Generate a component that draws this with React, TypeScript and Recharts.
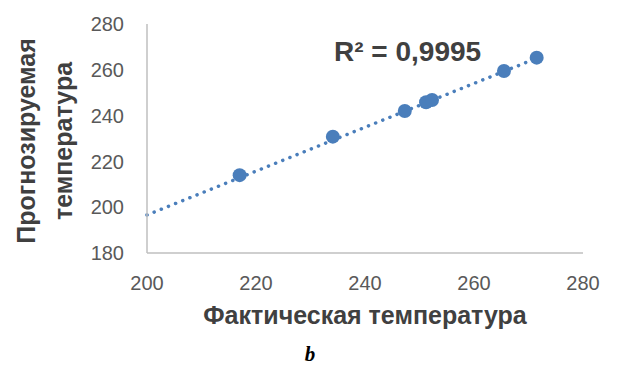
import React from "react";
import {
  ScatterChart,
  Scatter,
  XAxis,
  YAxis,
  ReferenceLine,
  Label,
} from "recharts";

// actual vs predicted temperature
const actual = [217, 234.1, 247.3, 251.2, 252.3, 265.5, 271.5];
const predicted = [214, 230.8, 242, 245.8, 246.8, 259.5, 265.3];

// linear trend line ends
const trendX = [200, 272.5];
const trendY = [196.6, 266];

const xTicks = [200, 220, 240, 260, 280];
const yTicks = [180, 200, 220, 240, 260, 280];

const points = actual.map((x, i) => ({ x, y: predicted[i] }));

const font = "'Liberation Sans', Arial, sans-serif";
const blue = "#4a7ebb";

const YTitle = () => (
  <g>
    <text
      x={0}
      y={0}
      transform="translate(26,141) rotate(-90)"
      textAnchor="middle"
      dominantBaseline="central"
      fontFamily={font}
      fontWeight="bold"
      fontSize={25}
      fill="#404040"
    >
      Прогнозируемая
    </text>
    <text
      x={0}
      y={0}
      transform="translate(63,141) rotate(-90)"
      textAnchor="middle"
      dominantBaseline="central"
      fontFamily={font}
      fontWeight="bold"
      fontSize={25}
      fill="#404040"
    >
      температура
    </text>
  </g>
);

export default function App() {
  return (
    <div
      style={{
        position: "absolute",
        left: 0,
        top: 0,
        width: 617,
        height: 367,
        background: "#fff",
        overflow: "hidden",
      }}
    >
      <ScatterChart
        width={617}
        height={367}
        margin={{ top: 24, right: 34, bottom: 84, left: 87 }}
      >
        <XAxis
          type="number"
          dataKey="x"
          domain={[200, 280]}
          ticks={xTicks}
          allowDataOverflow
          stroke="#bfbfbf"
          strokeWidth={1.5}
          tickLine={false}
          tickSize={0}
          tickMargin={23}
          height={30}
          tick={{ fill: "#595959", fontSize: 20, fontFamily: font }}
        />
        <YAxis
          type="number"
          dataKey="y"
          domain={[180, 280]}
          ticks={yTicks}
          allowDataOverflow
          stroke="#bfbfbf"
          strokeWidth={1.5}
          tickLine={false}
          tickSize={0}
          tickMargin={23}
          width={60}
          tick={{ fill: "#595959", fontSize: 20, fontFamily: font }}
        >
          <Label content={<YTitle />} />
        </YAxis>
        <ReferenceLine
          segment={[
            { x: trendX[0], y: trendY[0] },
            { x: trendX[1], y: trendY[1] },
          ]}
          stroke={blue}
          strokeWidth={3.5}
          strokeDasharray="0.1 7.6"
          strokeLinecap="round"
          ifOverflow="visible"
        />
        <Scatter
          data={points}
          fill={blue}
          isAnimationActive={false}
          shape={(p: any) => <circle cx={p.cx} cy={p.cy} r={7} fill={blue} />}
        />
      </ScatterChart>
      <div
        style={{
          position: "absolute",
          left: 334,
          top: 35,
          fontFamily: font,
          fontWeight: "bold",
          fontSize: 28,
          color: "#404040",
          whiteSpace: "nowrap",
          lineHeight: "34px",
        }}
      >
        R² = 0,9995
      </div>
      <div
        style={{
          position: "absolute",
          left: 0,
          width: 730,
          top: 299,
          textAlign: "center",
          fontFamily: font,
          fontWeight: "bold",
          fontSize: 25,
          color: "#404040",
          lineHeight: "32px",
        }}
      >
        Фактическая температура
      </div>
      <div
        style={{
          position: "absolute",
          left: 300,
          width: 20,
          top: 343,
          textAlign: "center",
          fontFamily: "'Liberation Serif', 'Times New Roman', serif",
          fontWeight: "bold",
          fontStyle: "italic",
          fontSize: 21,
          color: "#000",
          lineHeight: "22px",
        }}
      >
        b
      </div>
    </div>
  );
}
